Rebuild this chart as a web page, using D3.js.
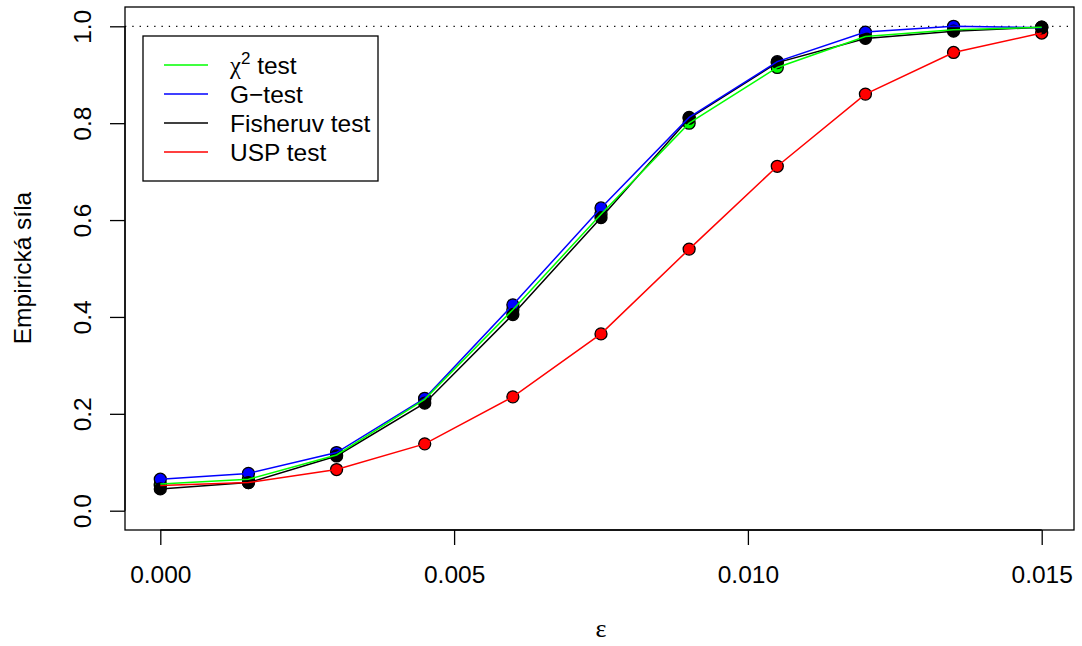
<!DOCTYPE html>
<meta charset="utf-8">
<style>
  body { margin: 0; background: #fff; }
  text { font-family: "Liberation Sans", Arial, Helvetica, sans-serif; }
</style>
<div id="chart"></div>
<script src="https://d3js.org/d3.v7.min.js"></script>
<script>
// data
var eps = [0, 0.0015, 0.003, 0.0045, 0.006, 0.0075, 0.009, 0.0105, 0.012, 0.0135, 0.015];
var chi2 = [0.055, 0.065, 0.115, 0.230, 0.415, 0.612, 0.800, 0.915, 0.979, 0.993, 0.998];
var gtest = [0.065, 0.077, 0.120, 0.232, 0.425, 0.625, 0.812, 0.927, 0.988, 1.000, 0.997];
var fisher = [0.045, 0.058, 0.113, 0.222, 0.405, 0.605, 0.810, 0.925, 0.975, 0.990, 0.998];
var usp = [0.052, 0.058, 0.085, 0.138, 0.235, 0.365, 0.540, 0.711, 0.860, 0.946, 0.986];

var xTicks = [0, 0.005, 0.010, 0.015];
var yTicks = [0, 0.2, 0.4, 0.6, 0.8, 1.0];

var series = [
  {name: "χ2", values: chi2, color: "#00ff00"},
  {name: "G−test", values: gtest, color: "#0000ff"},
  {name: "Fisheruv test", values: fisher, color: "#000000"},
  {name: "USP test", values: usp, color: "#ff0000"}
];

var width = 1082, height = 646;
var box = {left: 125, right: 1074, top: 7, bottom: 530};
var fs = 24.5;

var x = d3.scaleLinear().domain([0, 0.015]).range([160.3, 1041.7]);
var y = d3.scaleLinear().domain([0, 1]).range([510.7, 26.3]);

var svg = d3.select("#chart").append("svg")
    .attr("width", width)
    .attr("height", height);

// plot frame
svg.append("rect")
    .attr("x", box.left).attr("y", box.top)
    .attr("width", box.right - box.left).attr("height", box.bottom - box.top)
    .attr("fill", "none").attr("stroke", "#000").attr("stroke-width", 1.3);

// axes, R style (detached from the box)
var xAxis = svg.append("g")
    .attr("transform", "translate(0," + box.bottom + ")")
    .call(d3.axisBottom(x).tickValues(xTicks).tickFormat(d3.format(".3f")).tickSize(15).tickPadding(21));
xAxis.select(".domain")
    .attr("d", "M" + x(0) + ",0H" + x(0.015));
xAxis.selectAll("text").attr("font-size", fs).attr("fill", "#000")
    .style("font-family", "Liberation Sans, Arial, sans-serif");

var yAxis = svg.append("g")
    .attr("transform", "translate(" + box.left + ",0)")
    .call(d3.axisLeft(y).tickValues(yTicks).tickFormat(d3.format(".1f")).tickSize(15));
yAxis.select(".domain")
    .attr("d", "M0," + y(0) + "V" + y(1));
yAxis.selectAll(".tick text")
    .attr("font-size", fs).attr("fill", "#000")
    .attr("text-anchor", "middle")
    .attr("transform", "rotate(-90)")
    .attr("x", 0).attr("y", -43)
    .attr("dy", "0.35em")
    .style("font-family", "Liberation Sans, Arial, sans-serif");
svg.selectAll(".domain, .tick line").attr("stroke", "#000").attr("stroke-width", 1.3);

// axis titles
svg.append("text")
    .attr("transform", "translate(31,268) rotate(-90)")
    .attr("text-anchor", "middle")
    .attr("font-size", fs)
    .text("Empirická síla");

svg.append("text")
    .attr("x", 601).attr("y", 637)
    .attr("text-anchor", "middle")
    .attr("font-size", 26)
    .style("font-family", "Liberation Serif, DejaVu Serif, serif")
    .text("ε");

// reference line at 1
svg.append("line")
    .attr("x1", box.left).attr("x2", box.right)
    .attr("y1", y(1)).attr("y2", y(1))
    .attr("stroke", "#000").attr("stroke-width", 1.2)
    .attr("stroke-dasharray", "1.3,6");

var line = d3.line()
    .x(function(d, i) { return x(eps[i]); })
    .y(function(d) { return y(d); });

// points first, then the lines over them
var drawOrder = [series[3], series[0], series[1], series[2]];
drawOrder.forEach(function(s) {
  svg.append("g").selectAll("circle")
    .data(s.values).join("circle")
      .attr("cx", function(d, i) { return x(eps[i]); })
      .attr("cy", function(d) { return y(d); })
      .attr("r", 6)
      .attr("fill", s.color)
      .attr("stroke", "#000")
      .attr("stroke-width", 1.3);
});
[series[2], series[3], series[1], series[0]].forEach(function(s) {
  svg.append("path")
    .datum(s.values)
    .attr("d", line)
    .attr("fill", "none")
    .attr("stroke", s.color)
    .attr("stroke-width", 1.5);
});

// legend
var legend = svg.append("g");
legend.append("rect")
    .attr("x", 143).attr("y", 36)
    .attr("width", 235).attr("height", 145)
    .attr("fill", "#fff").attr("stroke", "#000").attr("stroke-width", 1.3);

series.forEach(function(s, i) {
  var ly = 65 + i * 29;
  legend.append("line")
      .attr("x1", 164).attr("x2", 208)
      .attr("y1", ly).attr("y2", ly)
      .attr("stroke", s.color).attr("stroke-width", 1.5);
  var t = legend.append("text")
      .attr("x", 230).attr("y", ly + 9)
      .attr("font-size", fs);
  if (i === 0) {
    t.append("tspan").text("χ")
      .style("font-family", "Liberation Serif, DejaVu Serif, serif");
    t.append("tspan").text("2").attr("font-size", 17).attr("dy", -10);
    t.append("tspan").text(" test").attr("dy", 10);
  } else {
    t.text(s.name);
  }
});
</script>
